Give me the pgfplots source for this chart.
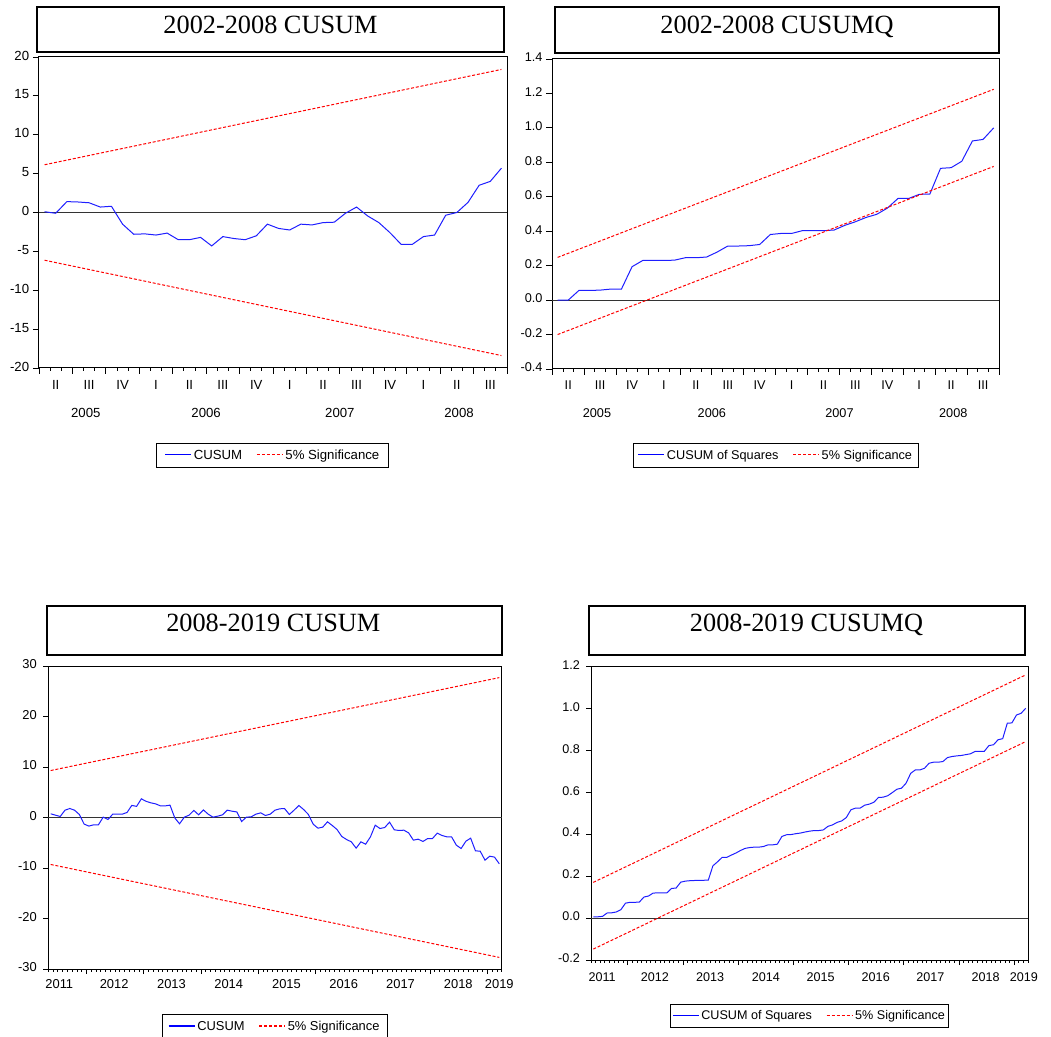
\documentclass[border=0pt]{standalone}
\usepackage{fontspec}
\setmainfont{Liberation Sans}
\newfontfamily\titlefont{Liberation Serif}
\usepackage{pgfplots}
\pgfplotsset{compat=1.18}
\definecolor{cblue}{RGB}{30,30,255}
\definecolor{cred}{RGB}{255,0,0}
\newcommand\fA{\fontsize{13.2}{15}\selectfont}
\newcommand\fB{\fontsize{12.7}{15}\selectfont}
\newcommand\fC{\fontsize{12.9}{15}\selectfont}
\newcommand\fD{\fontsize{12.6}{15}\selectfont}
\newcommand\tf{\titlefont\fontsize{26.3}{30}\selectfont}
\pgfplotsset{
 ev/.style={
  scale only axis, clip=false,
  axis line style={black, line width=1pt},
  tick align=outside,
  xtick pos=left, ytick pos=left,
  major tick length=6pt,
  minor tick length=3pt,
  every tick/.style={black, line width=0.8pt},
  yticklabel style={anchor=east, inner sep=0pt, xshift=-3.7pt, yshift=1.5pt},
  xticklabels={},
  legend columns=2,
  legend style={draw=none, fill=none, inner xsep=5pt, inner ysep=4pt,
    /tikz/every even column/.append style={column sep=12pt}},
 },
 cus/.style={color=cblue, line width=1pt,
   legend image code/.code={\draw[color=blue, line width=1.2pt, solid] (0pt,0.5pt) -- (26pt,0.5pt);}},
 sig/.style={color=cred, line width=1pt, dash pattern=on 3pt off 1.8pt,
   legend image code/.code={\draw[color=red, line width=1.2pt, dash pattern=on 3pt off 2pt] (0pt,0.5pt) -- (26pt,0.5pt);}},
 zer/.style={color=black!80, line width=1pt, forget plot},
}
\begin{document}
\begin{tikzpicture}[x=1pt,y=1pt]
\useasboundingbox (0,0) rectangle (1051,1036);
% legend frames
\draw[line width=0.8pt] (156.7,568.7) rectangle (388.7,592.7);
\draw[line width=0.8pt] (633.7,568.7) rectangle (918,592.7);
\draw[line width=0.8pt] (162.3,-2) rectangle (387.3,22);
\draw[line width=0.8pt] (670.7,9) rectangle (948.3,31.3);
% ---------------- Top-left: 2002-2008 CUSUM
\draw[line width=1.8pt] (37,984) rectangle (504,1029);
\node[anchor=base, font=\tf] at (270.5,1002.7) {2002-2008 CUSUM};
\begin{axis}[ev, at={(39pt,668pt)}, anchor=south west, width=468pt, height=311pt,
  xmin=-0.5, xmax=41.5, ymin=-20, ymax=20,
  ytick={-20,-15,-10,-5,0,5,10,15,20},
  yticklabels={-20,-15,-10,-5,0,5,10,15,20},
  xtick={-0.5,2.5,...,41.5},
  minor xtick={-0.5,0.5,...,41.5},
  extra x ticks={1,4,7,10,13,16,19,22,25,28,31,34,37,40},
  extra x tick labels={II,III,IV,I,II,III,IV,I,II,III,IV,I,II,III},
  extra x tick style={major tick length=0pt, tick label style={anchor=center, yshift=-17pt}},
  tick label style={font=\fA},
  legend style={at={(0.5,-0.2807)}, anchor=center, font=\fA},
]
\addplot[zer] coordinates {(-0.5,0) (41.5,0)};
\addplot[cus] coordinates {
(0,0.10) (1,-0.10) (2,1.40) (3,1.35) (4,1.25) (5,0.70) (6,0.80) (7,-1.50)
(8,-2.80) (9,-2.75) (10,-2.90) (11,-2.65) (12,-3.50) (13,-3.50) (14,-3.20)
(15,-4.30) (16,-3.10) (17,-3.35) (18,-3.50) (19,-3.00) (20,-1.50) (21,-2.05)
(22,-2.25) (23,-1.50) (24,-1.60) (25,-1.30) (26,-1.25) (27,-0.10) (28,0.70)
(29,-0.45) (30,-1.30) (31,-2.60) (32,-4.10) (33,-4.10) (34,-3.10) (35,-2.90)
(36,-0.35) (37,0.00) (38,1.30) (39,3.50) (40,4.00) (41,5.70)};
\addlegendentry{CUSUM}
\addplot[sig] coordinates {(0,6.14) (41,18.4)};
\addlegendentry{5\% Significance}
\addplot[sig, forget plot] coordinates {(0,-6.14) (41,-18.4)};
\node[font=\fA, yshift=-45pt] at (axis cs:3.7,-20) {2005};
\node[font=\fA, yshift=-45pt] at (axis cs:14.5,-20) {2006};
\node[font=\fA, yshift=-45pt] at (axis cs:26.5,-20) {2007};
\node[font=\fA, yshift=-45pt] at (axis cs:37.2,-20) {2008};
\end{axis}
% ---------------- Top-right: 2002-2008 CUSUMQ
\draw[line width=1.8pt] (555,983) rectangle (999,1029);
\node[anchor=base, font=\tf] at (777,1002.7) {2002-2008 CUSUMQ};
\begin{axis}[ev, at={(552.3pt,667pt)}, anchor=south west, width=446.7pt, height=310pt,
  xmin=-0.5, xmax=41.5, ymin=-0.4, ymax=1.4,
  ytick={-0.4,-0.2,0,0.2,0.4,0.6,0.8,1.0,1.2,1.4},
  yticklabels={-0.4,-0.2,0.0,0.2,0.4,0.6,0.8,1.0,1.2,1.4},
  xtick={-0.5,2.5,...,41.5},
  minor xtick={-0.5,0.5,...,41.5},
  extra x ticks={1,4,7,10,13,16,19,22,25,28,31,34,37,40},
  extra x tick labels={II,III,IV,I,II,III,IV,I,II,III,IV,I,II,III},
  extra x tick style={major tick length=0pt, tick label style={anchor=center, yshift=-16pt}},
  tick label style={font=\fB},
  legend style={at={(0.5006,-0.278)}, anchor=center, font=\fB},
]
\addplot[zer] coordinates {(-0.5,0) (41.5,0)};
\addplot[cus] coordinates {
(0,0.000) (1,0.000) (2,0.056) (3,0.056) (4,0.058) (5,0.064) (6,0.064) (7,0.194)
(8,0.230) (9,0.230) (10,0.230) (11,0.232) (12,0.246) (13,0.246) (14,0.250)
(15,0.279) (16,0.314) (17,0.314) (18,0.316) (19,0.323) (20,0.381) (21,0.387)
(22,0.387) (23,0.403) (24,0.403) (25,0.403) (26,0.407) (27,0.434) (28,0.455)
(29,0.480) (30,0.498) (31,0.534) (32,0.590) (33,0.590) (34,0.614) (35,0.616)
(36,0.765) (37,0.769) (38,0.806) (39,0.924) (40,0.933) (41,1.000)};
\addlegendentry{CUSUM of Squares}
\addplot[sig] coordinates {(0,0.248) (41,1.224)};
\addlegendentry{5\% Significance}
\addplot[sig, forget plot] coordinates {(0,-0.200) (41,0.776)};
\node[font=\fB, yshift=-44pt] at (axis cs:3.7,-0.4) {2005};
\node[font=\fB, yshift=-44pt] at (axis cs:14.5,-0.4) {2006};
\node[font=\fB, yshift=-44pt] at (axis cs:26.5,-0.4) {2007};
\node[font=\fB, yshift=-44pt] at (axis cs:37.2,-0.4) {2008};
\end{axis}
% ---------------- Bottom-left: 2008-2019 CUSUM
\draw[line width=1.8pt] (46.7,380.7) rectangle (501.7,430.3);
\node[anchor=base, font=\tf] at (273.3,404.3) {2008-2019 CUSUM};
\begin{axis}[ev, at={(48.3pt,67pt)}, anchor=south west, width=453.4pt, height=303pt,
  xmin=-0.5, xmax=94.5, ymin=-30, ymax=30,
  major tick length=5pt, minor tick length=2.5pt,
  ytick={-30,-20,-10,0,10,20,30},
  yticklabels={-30,-20,-10,0,10,20,30},
  yticklabel style={xshift=-2.7pt},
  xtick={7.5,19.5,...,91.5},
  minor xtick={-0.5,0.5,...,94.5},
  extra x ticks={1.8,13.3,25.3,37.3,49.4,61.4,73.3,85.4,94},
  extra x tick labels={2011,2012,2013,2014,2015,2016,2017,2018,2019},
  extra x tick style={major tick length=0pt, tick label style={anchor=center, yshift=-15.3pt}},
  tick label style={font=\fC},
  legend style={at={(0.4996,-0.19)}, anchor=center, font=\fC},
]
\addplot[zer] coordinates {(-0.5,0) (94.5,0)};
\addplot[cus] coordinates {
(0,0.73) (1,0.46) (2,0.20) (3,1.45) (4,1.78) (5,1.45) (6,0.60) (7,-1.30)
(8,-1.70) (9,-1.45) (10,-1.45) (11,0.07) (12,-0.40) (13,0.66) (14,0.66)
(15,0.66) (16,1.00) (17,2.40) (18,2.20) (19,3.70) (20,3.20) (21,2.90)
(22,2.70) (23,2.30) (24,2.30) (25,2.45) (26,-0.07) (27,-1.25) (28,0.07)
(29,0.46) (30,1.40) (31,0.53) (32,1.50) (33,0.66) (34,0.07) (35,0.26)
(36,0.53) (37,1.45) (38,1.25) (39,1.10) (40,-0.80) (41,0.07) (42,0.13)
(43,0.66) (44,0.92) (45,0.40) (46,0.66) (47,1.45) (48,1.72) (49,1.78)
(50,0.60) (51,1.45) (52,2.38) (53,1.58) (54,0.60) (55,-1.32) (56,-2.11)
(57,-1.91) (58,-0.86) (59,-1.58) (60,-2.38) (61,-3.76) (62,-4.36) (63,-4.82)
(64,-6.07) (65,-4.82) (66,-5.28) (67,-3.83) (68,-1.52) (69,-2.18) (70,-1.98)
(71,-0.92) (72,-2.44) (73,-2.57) (74,-2.51) (75,-3.04) (76,-4.49) (77,-4.29)
(78,-4.75) (79,-4.16) (80,-4.16) (81,-3.10) (82,-3.56) (83,-3.83) (84,-3.83)
(85,-5.48) (86,-6.14) (87,-4.69) (88,-4.09) (89,-6.60) (90,-6.67) (91,-8.45)
(92,-7.66) (93,-7.85) (94,-9.17)};
\addlegendentry{CUSUM}
\addplot[sig] coordinates {(0,9.3) (94,27.7)};
\addlegendentry{5\% Significance}
\addplot[sig, forget plot] coordinates {(0,-9.3) (94,-27.7)};
\end{axis}
% ---------------- Bottom-right: 2008-2019 CUSUMQ
\draw[line width=1.8pt] (589,380.7) rectangle (1025,430.3);
\node[anchor=base, font=\tf] at (806.5,404.3) {2008-2019 CUSUMQ};
\begin{axis}[ev, at={(591pt,76pt)}, anchor=south west, width=437pt, height=293.7pt,
  xmin=-0.5, xmax=94.5, ymin=-0.2, ymax=1.2,
  major tick length=5pt, minor tick length=2.5pt,
  ytick={-0.2,0,0.2,0.4,0.6,0.8,1.0,1.2},
  yticklabels={-0.2,0.0,0.2,0.4,0.6,0.8,1.0,1.2},
  yticklabel style={xshift=-2.3pt},
  xtick={7.5,19.5,...,91.5},
  minor xtick={-0.5,0.5,...,94.5},
  extra x ticks={1.9,13.4,25.4,37.5,49.4,61.4,73.3,85.3,93.6},
  extra x tick labels={2011,2012,2013,2014,2015,2016,2017,2018,2019},
  extra x tick style={major tick length=0pt, tick label style={anchor=center, yshift=-16.7pt}},
  tick label style={font=\fD},
  legend style={at={(0.5,-0.19)}, anchor=center, font=\fD},
]
\addplot[zer] coordinates {(-0.5,0) (94.5,0)};
\addplot[cus] coordinates {
(0,0.005) (1,0.006) (2,0.008) (3,0.024) (4,0.025) (5,0.029) (6,0.040) (7,0.071)
(8,0.075) (9,0.075) (10,0.076) (11,0.100) (12,0.105) (13,0.119) (14,0.120)
(15,0.120) (16,0.120) (17,0.141) (18,0.143) (19,0.171) (20,0.176) (21,0.178)
(22,0.179) (23,0.179) (24,0.180) (25,0.181) (26,0.249) (27,0.268) (28,0.289)
(29,0.289) (30,0.300) (31,0.310) (32,0.322) (33,0.332) (34,0.336) (35,0.338)
(36,0.338) (37,0.341) (38,0.349) (39,0.349) (40,0.352) (41,0.389) (42,0.397)
(43,0.398) (44,0.402) (45,0.405) (46,0.410) (47,0.414) (48,0.417) (49,0.417)
(50,0.420) (51,0.437) (52,0.444) (53,0.456) (54,0.463) (55,0.479) (56,0.516)
(57,0.524) (58,0.524) (59,0.538) (60,0.543) (61,0.552) (62,0.575) (63,0.576)
(64,0.583) (65,0.598) (66,0.614) (67,0.619) (68,0.643) (69,0.690) (70,0.706)
(71,0.706) (72,0.714) (73,0.738) (74,0.743) (75,0.743) (76,0.746) (77,0.765)
(78,0.770) (79,0.773) (80,0.775) (81,0.779) (82,0.783) (83,0.794) (84,0.795)
(85,0.795) (86,0.822) (87,0.826) (88,0.850) (89,0.855) (90,0.929) (91,0.930)
(92,0.968) (93,0.976) (94,1.000)};
\addlegendentry{CUSUM of Squares}
\addplot[sig] coordinates {(0,0.170) (94,1.159)};
\addlegendentry{5\% Significance}
\addplot[sig, forget plot] coordinates {(0,-0.148) (94,0.841)};
\end{axis}
\end{tikzpicture}
\end{document}
